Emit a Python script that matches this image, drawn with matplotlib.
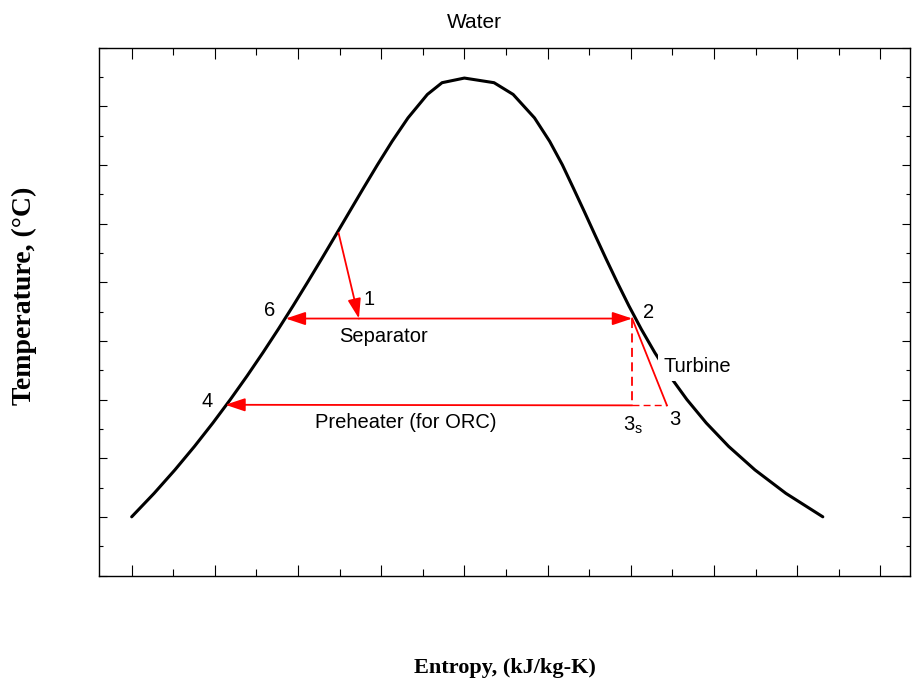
import matplotlib
matplotlib.use("Agg")
import matplotlib.pyplot as plt
from matplotlib.ticker import MultipleLocator, NullFormatter

# Saturation dome of water
T_sat = [0.01, 20, 40, 60, 80, 100, 120, 140, 160, 180, 200, 220, 240,
         260, 280, 300, 320, 340, 360, 370, 373.95]
s_f = [0.0, 0.2965, 0.5724, 0.8312, 1.0753, 1.3069, 1.5276, 1.7391, 1.9427,
       2.1396, 2.3305, 2.5177, 2.7020, 2.8849, 3.0685, 3.2552, 3.4494, 3.6601,
       3.9167, 4.1112, 4.407]
s_g = [9.155, 8.666, 8.256, 7.908, 7.611, 7.354, 7.129, 6.929, 6.750, 6.585,
       6.431, 6.283, 6.139, 5.997, 5.852, 5.705, 5.537, 5.336, 5.053, 4.800,
       4.407]

# Cycle states (entropy, temperature)
s_in, T_in = 2.74, 242.0      # geofluid entering the flash
s_1, T_1 = 3.01, 169.0        # after throttling
s_6, T_6 = 2.04, 169.0        # separated liquid
s_2, T_2 = 6.63, 169.0        # separated vapour
s_3s, T_3s = 6.63, 95.0       # isentropic turbine exit
s_3, T_3 = 7.09, 95.0         # actual turbine exit
s_4, T_4 = 1.24, 95.5         # after preheater

W, H = 914, 684
fig = plt.figure(figsize=(W / 100, H / 100), dpi=100)
L, R, B, T = 99, 910, 575.5, 47.5
ax = fig.add_axes([L / W, 1 - B / H, (R - L) / W, (B - T) / H])

x_lo, x_hi = -0.433, 10.31
ax.set_xlim(x_lo, x_hi)
ax.set_ylim(-50, 400)

dome_x = s_f + s_g[::-1]
dome_y = T_sat + T_sat[::-1]
ax.plot(dome_x, dome_y, color="black", lw=2.2, solid_capstyle="round",
        solid_joinstyle="round", zorder=2)

red = "#ff0000"
head = "-|>,head_length=0.6,head_width=0.2"
def arrow(x0, y0, x1, y1):
    ax.annotate("", xy=(x1, y1), xytext=(x0, y0),
                arrowprops=dict(arrowstyle=head, mutation_scale=20, color=red,
                                lw=1.3, shrinkA=0, shrinkB=0), zorder=4)

arrow(s_in, T_in, s_1, T_1)
arrow(s_1, T_1, s_2, T_2)
arrow(s_1, T_1, s_6, T_6)
arrow(s_3s, T_3s, s_4, T_4)
ax.plot([s_2, s_3], [T_2, T_3], color=red, lw=1.3, zorder=3)
ax.plot([s_2, s_3s], [T_2, T_3s], color=red, lw=1.3, ls=(0, (5, 3)), zorder=3)
ax.plot([s_3s, s_3], [T_3s, T_3], color=red, lw=1.0, ls=(0, (5, 3)), zorder=3)

fs = 14.5
tf = "Liberation Sans"
ax.text(3.14, 185, "1", fontsize=fs, family=tf, ha="center", va="center")
ax.text(6.85, 174.5, "2", fontsize=fs, family=tf, ha="center", va="center")
ax.text(1.83, 175.5, "6", fontsize=fs, family=tf, ha="center", va="center")
ax.text(1.0, 98, "4", fontsize=fs, family=tf, ha="center", va="center")
ax.text(7.2, 83, "3", fontsize=fs, family=tf, ha="center", va="center")
ax.text(6.64, 78, r"$\mathregular{3_s}$", fontsize=fs, family=tf,
        ha="center", va="center")
ax.text(3.34, 153.5, "Separator", fontsize=fs, family=tf, ha="center", va="center")
ax.text(3.63, 80, "Preheater (for ORC)", fontsize=fs, family=tf,
        ha="center", va="center")
ax.text(7.49, 128, "Turbine", fontsize=fs, family=tf, ha="center", va="center",
        bbox=dict(facecolor="white", edgecolor="none", pad=3.5), zorder=5)

fig.text(474 / W, 1 - 22 / H, "Water", fontsize=15, family=tf,
         ha="center", va="center")
fig.text(505 / W, 1 - 668 / H, "Entropy, (kJ/kg-K)", family="Liberation Serif",
         fontweight="bold", fontsize=16, ha="center", va="center")
fig.text(24 / W, 1 - 296 / H, "Temperature, (°C)", family="Liberation Serif",
         fontweight="bold", fontsize=20, ha="center", va="center", rotation=90)

ax.xaxis.set_major_locator(MultipleLocator(1.102))
ax.xaxis.set_minor_locator(MultipleLocator(0.551))
ax.yaxis.set_major_locator(MultipleLocator(50))
ax.yaxis.set_minor_locator(MultipleLocator(25))
ax.xaxis.set_major_formatter(NullFormatter())
ax.yaxis.set_major_formatter(NullFormatter())
ax.tick_params(which="both", direction="in", top=True, right=True, width=0.8)
ax.tick_params(axis="x", which="major", length=8)
ax.tick_params(axis="x", which="minor", length=5)
ax.tick_params(axis="y", which="major", length=6)
ax.tick_params(axis="y", which="minor", length=3)
for sp in ax.spines.values():
    sp.set_linewidth(1.0)

fig.savefig("out.png", dpi=100)
